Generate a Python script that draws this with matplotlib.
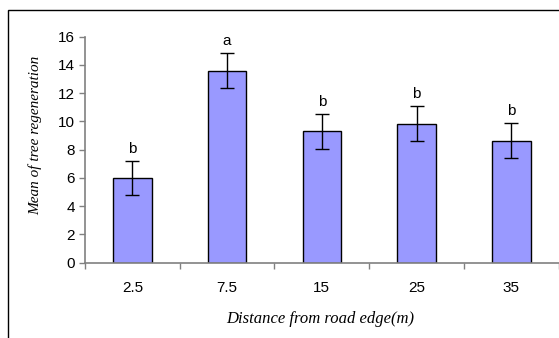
import matplotlib
matplotlib.use("Agg")
import matplotlib.pyplot as plt
from matplotlib.patches import Rectangle

# Datos
distancias = ["2.5", "7.5", "15", "25", "35"]
medias = [6.0, 13.6, 9.3, 9.85, 8.65]
errores = [1.2, 1.23, 1.22, 1.23, 1.22]
letras = ["b", "a", "b", "b", "b"]

fig = plt.figure(figsize=(5.59, 3.38), dpi=100)
ax = fig.add_axes([0.152, 0.2228, 0.8475, 0.6686])

# marco exterior (recortado a la derecha y abajo)
fig.patches.append(Rectangle((8 / 559, -0.1), 1.2, 1 - 10 / 338 + 0.1,
                             transform=fig.transFigure, fill=False,
                             edgecolor="black", linewidth=1.0))

pos = range(len(distancias))
ax.bar(pos, medias, width=0.405, color="#9999FF", edgecolor="black",
       linewidth=1.0, yerr=errores, capsize=5,
       error_kw=dict(ecolor="black", elinewidth=1.0, capthick=1.0), zorder=2)

for i, (m, e, l) in enumerate(zip(medias, errores, letras)):
    ax.annotate(l, (i, m + e), xytext=(0, 6), textcoords="offset points",
                ha="center", va="baseline", fontsize=11, family="Liberation Sans")

ax.set_xlim(-0.5, len(distancias) - 0.5)
ax.set_ylim(0, 16)
ax.set_yticks(range(0, 17, 2))
ax.set_xticks(pos)
ax.set_xticklabels(distancias)
ax.set_xticks([p + 0.5 for p in range(-1, len(distancias))], minor=True)

for s in ["top", "right"]:
    ax.spines[s].set_visible(False)
for s in ["left", "bottom"]:
    ax.spines[s].set_color("#808080")
    ax.spines[s].set_linewidth(1.2)

ax.tick_params(axis="x", which="major", length=0, pad=13)
ax.tick_params(axis="x", which="minor", length=4, color="#808080", width=1.0)
ax.tick_params(axis="y", length=4, color="#808080", width=1.0, pad=3)
for t in ax.get_xticklabels() + ax.get_yticklabels():
    t.set_family("Liberation Sans")
    t.set_fontsize(11)

ax.set_ylabel("Mean of tree regeneration", family="Liberation Serif",
              style="italic", fontsize=11)
ax.yaxis.set_label_coords(-0.09, 0.565)
ax.set_xlabel("Distance from road edge(m)", family="Liberation Serif",
              style="italic", fontsize=12)
ax.xaxis.set_label_coords(0.497, -0.214)

fig.savefig("out.png", dpi=100)
